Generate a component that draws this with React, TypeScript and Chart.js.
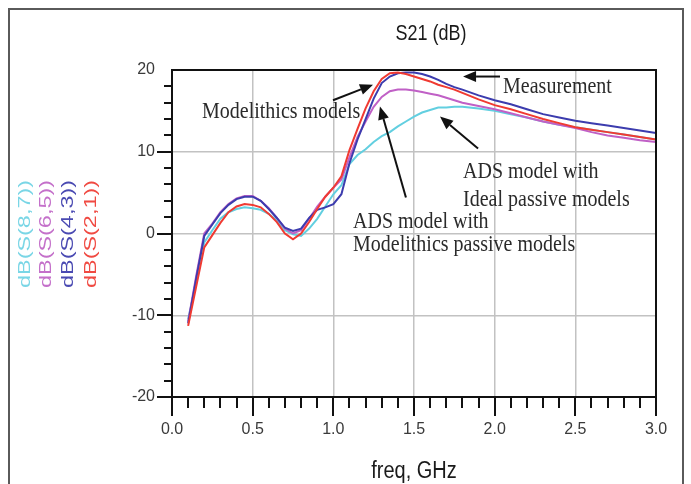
import React, { useEffect, useRef } from "react";
import { Chart, registerables } from "chart.js";
Chart.register(...registerables);

// ---- data ----
const freqGHz = [
  0.1, 0.15, 0.2, 0.25, 0.3, 0.35, 0.4, 0.45, 0.5, 0.55, 0.6, 0.65, 0.7, 0.75, 0.8, 0.85, 0.9, 0.95,
  1.0, 1.05, 1.1, 1.15, 1.2, 1.25, 1.3, 1.35, 1.4, 1.45, 1.5, 1.55, 1.6, 1.65, 1.7, 1.75, 1.8,
  1.9, 2.0, 2.1, 2.2, 2.3, 2.4, 2.5, 2.6, 2.7, 2.8, 2.9, 3.0,
];
const s21 = [
  -11.3, -6.5, -1.7, -0.2, 1.3, 2.6, 3.3, 3.6, 3.5, 3.2, 2.4, 1.4, 0.0, -0.7, 0.0, 1.4, 3.0, 4.5,
  5.6, 7.0, 10.2, 12.8, 15.3, 17.4, 18.9, 19.6, 19.7, 19.5, 19.2, 18.9, 18.6, 18.2, 17.9, 17.6, 17.2,
  16.4, 15.7, 15.2, 14.6, 14.0, 13.5, 13.0, 12.7, 12.4, 12.1, 11.8, 11.5,
];
const s43 = [
  -11.0, -5.5, -0.3, 1.1, 2.5, 3.5, 4.2, 4.5, 4.5, 4.0, 3.0, 1.9, 0.7, 0.3, 0.6, 1.9, 2.9, 3.2,
  3.6, 4.8, 8.6, 11.5, 14.0, 16.5, 18.4, 19.2, 19.6, 19.7, 19.7, 19.5, 19.2, 18.8, 18.3, 17.9, 17.6,
  16.9, 16.3, 15.8, 15.2, 14.6, 14.2, 13.8, 13.5, 13.2, 12.9, 12.6, 12.3,
];
const s65 = [
  -10.8, -5.2, 0.0, 1.2, 2.6, 3.6, 4.3, 4.6, 4.6, 4.0, 3.1, 1.9, 0.6, 0.0, 0.4, 1.8, 3.3, 4.5,
  5.6, 6.6, 9.3, 11.8, 13.7, 15.5, 16.7, 17.4, 17.6, 17.6, 17.5, 17.3, 17.1, 16.9, 16.6, 16.3, 16.0,
  15.6, 15.2, 14.7, 14.2, 13.7, 13.3, 12.9, 12.4, 12.0, 11.7, 11.4, 11.2,
];
const s87 = [
  -10.5, -6.0, -1.1, 0.4, 1.8, 2.6, 3.0, 3.2, 3.1, 2.9, 2.4, 1.6, 0.4, -0.1, -0.3, 0.6, 1.8, 3.3,
  4.8, 5.9, 8.5, 9.6, 10.3, 11.2, 11.9, 12.4, 13.1, 13.7, 14.3, 14.8, 15.1, 15.4, 15.4, 15.5, 15.5,
  15.3, 15.0, 14.6, 14.2, 13.7, 13.3, 13.0, 12.7, 12.4, 12.1, 11.8, 11.5,
];

const seriesNames = ["dB(S(2,1))", "dB(S(4,3))", "dB(S(6,5))", "dB(S(8,7))"];
const seriesColors = ["#f03a32", "#3c3cae", "#c060c6", "#62cfe0"];
const legendColors = ["#f04a42", "#4a4ab2", "#c470ca", "#7ad6e6"];

const xTickLabels = ["0.0", "0.5", "1.0", "1.5", "2.0", "2.5", "3.0"];
const yTickLabels = ["-20", "-10", "0", "10", "20"];

// annotations (data coordinates)
const noteTexts = [
  "Modelithics models",
  "Measurement",
  "ADS model with",
  "Ideal passive models",
  "ADS model with",
  "Modelithics passive models",
];
const noteX = [0.186, 2.052, 1.804, 1.804, 1.122, 1.122];
const noteY = [14.8, 17.9, 7.47, 4.04, 1.35, -1.47];
const arrowFromX = [0.998, 2.033, 1.897, 1.45];
const arrowFromY = [16.3, 19.2, 10.4, 4.41];
const arrowToX = [1.246, 1.804, 1.661, 1.289];
const arrowToY = [18.2, 19.2, 14.3, 15.54];

const W = 691;
const H = 484;

export default function App() {
  const ref = useRef<HTMLCanvasElement | null>(null);

  useEffect(() => {
    const canvas = ref.current;
    if (!canvas) return;
    const seriesData = [s21, s43, s65, s87];

    const stretchText = (ctx: CanvasRenderingContext2D, t: string, x: number, y: number, sy: number) => {
      ctx.save();
      ctx.translate(x, y);
      ctx.scale(1, sy);
      ctx.fillText(t, 0, 0);
      ctx.restore();
    };

    const decor = {
      id: "decor",
      afterDraw(chart: any) {
        const ctx = chart.ctx as CanvasRenderingContext2D;
        const xs = chart.scales.x;
        const ys = chart.scales.y;
        const a = chart.chartArea;
        ctx.save();
        // outer frame
        ctx.strokeStyle = "#5a5a5a";
        ctx.lineWidth = 2;
        ctx.beginPath();
        ctx.moveTo(9, H);
        ctx.lineTo(9, 9);
        ctx.lineTo(683, 9);
        ctx.lineTo(683, H);
        ctx.stroke();

        // plot box
        ctx.strokeStyle = "#111";
        ctx.lineWidth = 2;
        ctx.strokeRect(a.left, a.top, a.right - a.left, a.bottom - a.top);

        // x ticks
        ctx.lineWidth = 2;
        for (let i = 0; i <= 30; i++) {
          const px = Math.round(xs.getPixelForValue(i / 10));
          const len = i % 5 === 0 ? 19 : 11;
          ctx.beginPath();
          ctx.moveTo(px, a.bottom);
          ctx.lineTo(px, a.bottom + len);
          ctx.stroke();
        }
        // y ticks
        for (let v = -20; v < 20; v += 2) {
          const py = Math.round(ys.getPixelForValue(v));
          const len = v % 10 === 0 ? 15 : 8;
          ctx.beginPath();
          ctx.moveTo(a.left - len, py);
          ctx.lineTo(a.left, py);
          ctx.stroke();
        }

        // title
        ctx.fillStyle = "#1a1a1a";
        ctx.font = "18px 'Liberation Sans', Arial, sans-serif";
        ctx.textAlign = "center";
        ctx.textBaseline = "middle";
        stretchText(ctx, "S21 (dB)", 431, 34, 1.25);

        // x axis title
        ctx.font = "20px 'Liberation Sans', Arial, sans-serif";
        stretchText(ctx, "freq, GHz", 414, 472, 1.15);

        // rotated legend
        const colX = [91, 68, 46, 25];
        for (let i = 0; i < 4; i++) {
          ctx.save();
          ctx.translate(colX[i], 288);
          ctx.rotate(-Math.PI / 2);
          ctx.font = "17px 'Liberation Sans', Arial, sans-serif";
          const w = ctx.measureText(seriesNames[i]).width;
          ctx.scale(108 / w, 1);
          ctx.textAlign = "left";
          ctx.textBaseline = "middle";
          ctx.fillStyle = legendColors[i];
          ctx.fillText(seriesNames[i], 0, 0);
          ctx.restore();
        }

        // annotations
        ctx.fillStyle = "#2a2a2a";
        ctx.font = "20px 'Liberation Serif', 'Times New Roman', serif";
        ctx.textAlign = "left";
        ctx.textBaseline = "middle";
        for (let i = 0; i < noteTexts.length; i++) {
          stretchText(ctx, noteTexts[i], xs.getPixelForValue(noteX[i]), ys.getPixelForValue(noteY[i]), 1.12);
        }
        ctx.strokeStyle = "#111";
        ctx.fillStyle = "#111";
        ctx.lineWidth = 2;
        for (let i = 0; i < arrowFromX.length; i++) {
          const x1 = xs.getPixelForValue(arrowFromX[i]);
          const y1 = ys.getPixelForValue(arrowFromY[i]);
          const x2 = xs.getPixelForValue(arrowToX[i]);
          const y2 = ys.getPixelForValue(arrowToY[i]);
          const ang = Math.atan2(y2 - y1, x2 - x1);
          const hl = 13;
          const hw = 5.5;
          const bx = x2 - hl * Math.cos(ang);
          const by = y2 - hl * Math.sin(ang);
          ctx.beginPath();
          ctx.moveTo(x1, y1);
          ctx.lineTo(bx, by);
          ctx.stroke();
          ctx.beginPath();
          ctx.moveTo(x2, y2);
          ctx.lineTo(bx + hw * Math.sin(ang), by - hw * Math.cos(ang));
          ctx.lineTo(bx - hw * Math.sin(ang), by + hw * Math.cos(ang));
          ctx.closePath();
          ctx.fill();
        }
        ctx.restore();
      },
    };

    const chart = new Chart(canvas, {
      type: "line",
      data: {
        datasets: seriesData.map((arr, i) => ({
          label: seriesNames[i],
          data: freqGHz.map((f, j) => ({ x: f, y: arr[j] })),
          borderColor: seriesColors[i],
          backgroundColor: seriesColors[i],
          borderWidth: 2,
          pointRadius: 0,
          tension: 0,
          fill: false,
        })),
      },
      options: {
        responsive: false,
        animation: false,
        events: [],
        layout: { padding: { top: 70, right: 35, left: 0, bottom: 0 } },
        plugins: { legend: { display: false }, title: { display: false }, tooltip: { enabled: false } },
        scales: {
          x: {
            type: "linear",
            min: 0,
            max: 3,
            afterFit: (s: any) => {
              s.height = 87;
            },
            ticks: {
              stepSize: 0.5,
              padding: 23,
              color: "#3a3a3a",
              font: { family: "'Liberation Sans', Arial, sans-serif", size: 16 },
              callback: (v: any) => xTickLabels[Math.round(Number(v) * 2)] ?? "",
              maxRotation: 0,
              autoSkip: false,
            },
            grid: {
              drawTicks: false,
              lineWidth: 1.5,
              color: (c: any) => (c.tick && (c.tick.value === 0 || c.tick.value === 3) ? "rgba(0,0,0,0)" : "#c2c2c2"),
            },
            border: { display: true, color: "#111", width: 2 },
          },
          y: {
            type: "linear",
            min: -20,
            max: 20,
            afterFit: (s: any) => {
              s.width = 172;
            },
            ticks: {
              stepSize: 10,
              padding: 17,
              color: "#3a3a3a",
              font: { family: "'Liberation Sans', Arial, sans-serif", size: 16 },
              callback: (v: any) => yTickLabels[Math.round((Number(v) + 20) / 10)] ?? "",
            },
            grid: {
              drawTicks: false,
              lineWidth: 1.5,
              color: (c: any) => (c.tick && Math.abs(c.tick.value) === 20 ? "rgba(0,0,0,0)" : "#c2c2c2"),
            },
            border: { display: true, color: "#111", width: 2 },
          },
        },
      },
      plugins: [decor],
    } as any);

    return () => chart.destroy();
  }, []);

  return (
    <div style={{ position: "fixed", left: 0, top: 0, width: W, height: H, background: "#fff" }}>
      <canvas ref={ref} width={W} height={H} style={{ display: "block", width: W, height: H }} />
    </div>
  );
}
